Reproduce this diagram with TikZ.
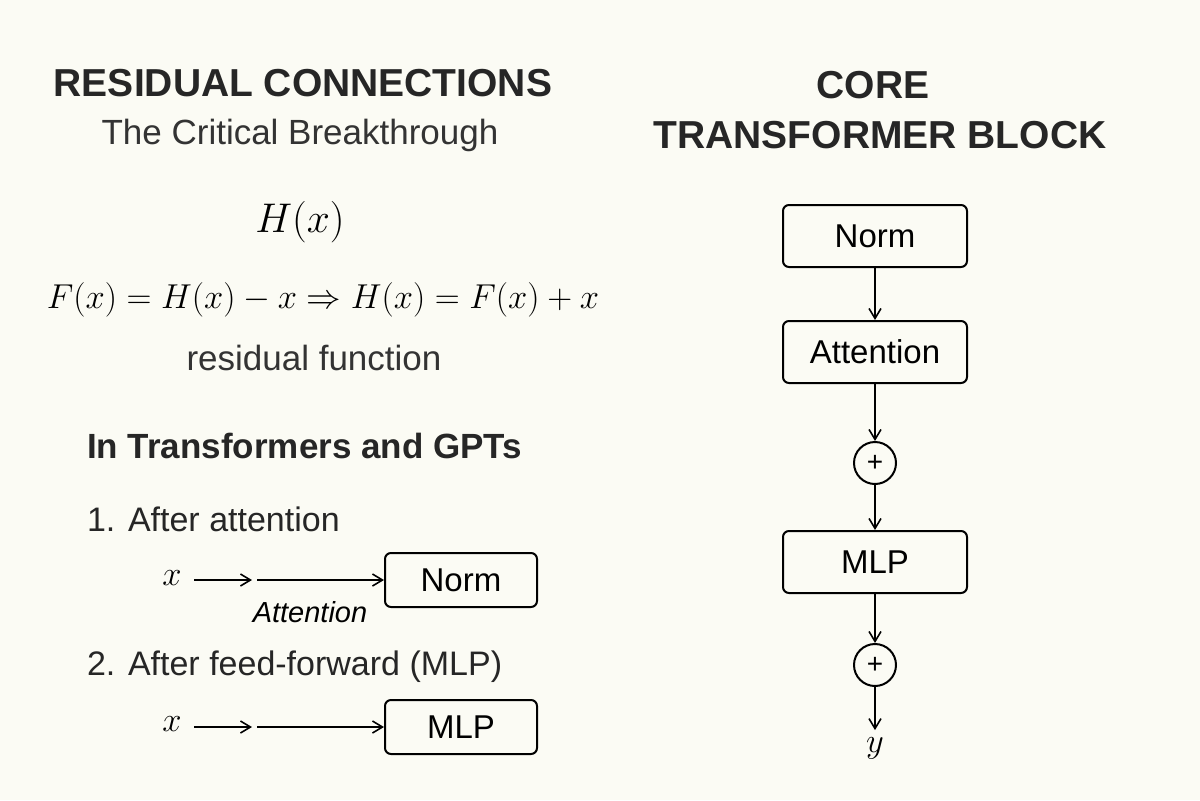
\documentclass[tikz,border=0pt]{standalone}
\usepackage{fontspec}
\setmainfont{Liberation Sans}
\usetikzlibrary{arrows.meta}
\begin{document}
\begin{tikzpicture}[x=0.5pt,y=-0.5pt,
  box/.style={draw,line width=1pt,rounded corners=3pt,font=\fontsize{16.5}{19}\selectfont},
  circ/.style={draw,line width=1pt,circle,minimum size=21pt,inner sep=0pt,font=\fontsize{14}{16}\selectfont},
  arr/.style={-{Straight Barb[length=5pt,width=6pt]},line width=0.8pt},
  title/.style={font=\fontsize{19.5}{23}\bfseries\selectfont,text=black!85},
  txt/.style={font=\fontsize{17.5}{20}\selectfont,text=black!80},
  lbl/.style={font=\fontsize{17}{20}\selectfont,anchor=west,text=black!85}]
\fill[fill={rgb,255:red,251;green,251;blue,244}] (0,0) rectangle (1200,800);
\useasboundingbox (0,0) rectangle (1200,800);
\node[title] (t1) at (303,83) {RESIDUAL CONNECTIONS};
\node[txt] (t2) at (300,135) {The Critical Breakthrough};
\node[font=\fontsize{20}{23}\selectfont] (h) at (300,222) {$H(x)$};
\node[font=\fontsize{17}{20}\selectfont] (eq) at (323,300) {$F(x)=H(x)-x\Rightarrow H(x)=F(x)+x$};
\node[txt] (rf) at (314,358) {residual function};
\node[lbl,font=\fontsize{17.5}{20}\bfseries\selectfont] (it) at (80,446) {In Transformers and GPTs};
\node[lbl] (s1) at (80,519) {1. After attention};
\node[font=\fontsize{18}{20}\selectfont] (x1) at (172,578) {$x$};
\coordinate (a1) at (252,580);
\coordinate (b1) at (257,580);
\node[box,minimum width=76pt,minimum height=27pt] (n1) at (461,580) {Norm};
\draw[arr] (194,580) -- (a1);
\draw[arr] (b1) -- (n1.west);
\node[font=\fontsize{14.5}{16}\itshape\selectfont] (at) at (310,612) {Attention};
\node[lbl] (s2) at (80,667) {2. After feed-forward (MLP)};
\node[font=\fontsize{18}{20}\selectfont] (x2) at (172,724) {$x$};
\coordinate (a2) at (252,727);
\coordinate (b2) at (257,727);
\node[box,minimum width=76pt,minimum height=27pt] (n2) at (461,727) {MLP};
\draw[arr] (194,727) -- (a2);
\draw[arr] (b2) -- (n2.west);
\node[title] (c1) at (873,85) {CORE};
\node[title] (c2) at (880,135) {TRANSFORMER BLOCK};
\node[box,minimum width=92pt,minimum height=31pt] (bn) at (875,236) {Norm};
\node[box,minimum width=92pt,minimum height=31pt] (ba) at (875,352) {Attention};
\node[circ] (p1) at (875,463) {+};
\node[box,minimum width=92pt,minimum height=31pt] (bm) at (875,562) {MLP};
\node[circ] (p2) at (875,665) {+};
\node[font=\fontsize{18}{20}\selectfont] (y) at (875,748) {$y$};
\draw[arr] (bn) -- (ba);
\draw[arr] (ba) -- (p1);
\draw[arr] (p1) -- (bm);
\draw[arr] (bm) -- (p2);
\draw[arr] (p2) -- (y);
\end{tikzpicture}
\end{document}
